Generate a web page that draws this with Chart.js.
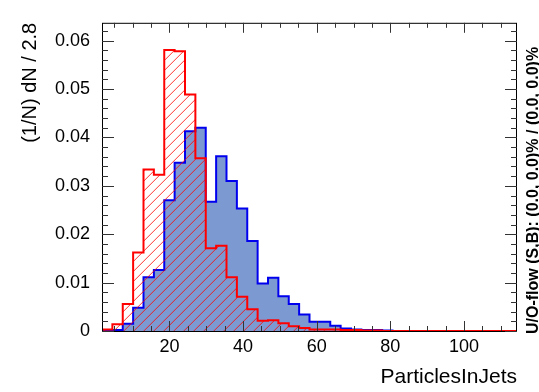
<!DOCTYPE html>
<html>
<head>
<meta charset="utf-8">
<script src="https://cdn.jsdelivr.net/npm/chart.js@4.4.0/dist/chart.umd.min.js"></script>
<style>
  body { margin: 0; background: #fff; }
  canvas { display: block; }
</style>
</head>
<body>
<canvas id="c" width="539" height="392"></canvas>
<script>
// histogram range (bin width ~2.8)
const xMin = 1.7;
const xMax = 114.4;
const nBins = 40;

// normalised entries per bin
const signal = [
  0.0000, 0.0002, 0.0015, 0.0048, 0.0111, 0.0126, 0.0270, 0.0348, 0.0413, 0.0420,
  0.0267, 0.0361, 0.0310, 0.0253, 0.0186, 0.0098, 0.0110, 0.0072, 0.0056, 0.0034,
  0.0019, 0.0019, 0.0011, 0.0005, 0.0003, 0.0002, 0.0002, 0.0001, 0.0000, 0.0000,
  0.0000, 0.0000, 0.0000, 0.0000, 0.0000, 0.0000, 0.0000, 0.0000, 0.0000, 0.0000
];
const background = [
  0.0003, 0.0014, 0.0056, 0.0162, 0.0334, 0.0323, 0.0581, 0.0578, 0.0489, 0.0357,
  0.0171, 0.0176, 0.0111, 0.0071, 0.0045, 0.0021, 0.0022, 0.0016, 0.0010, 0.0006,
  0.0003, 0.0003, 0.0003, 0.0002, 0.0002, 0.0001, 0.0001, 0.0000, 0.0000, 0.0000,
  0.0000, 0.0000, 0.0000, 0.0000, 0.0000, 0.0000, 0.0000, 0.0000, 0.0000, 0.0000
];

const xTicks = [20, 40, 60, 80, 100];
const yTicks = [0, 0.01, 0.02, 0.03, 0.04, 0.05, 0.06];
const yMax = 0.0637;
const xTitle = 'ParticlesInJets';
const yTitle = '(1/N) dN / 2.8';
const flowText = 'U/O-flow (S,B): (0.0, 0.0)% / (0.0, 0.0)%';

const FONT = "'Liberation Sans', Arial, sans-serif";

// turn bin contents into step points (left edge of each bin)
function histPoints(vals) {
  const w = (xMax - xMin) / nBins;
  const pts = [{ x: xMin, y: 0 }];
  vals.forEach((v, i) => pts.push({ x: xMin + i * w, y: v }));
  pts.push({ x: xMax, y: vals[vals.length - 1] });
  pts.push({ x: xMax, y: 0 });
  return pts;
}

// red diagonal hatch (ROOT 3554 look), clipped to the background histogram
const hatchPlugin = {
  id: 'hatch',
  beforeDatasetDraw(chart, args) {
    if (args.index !== 0) return;
    const { ctx, chartArea: a } = chart;
    ctx.save();
    ctx.beginPath();
    args.meta.dataset.path(ctx);
    ctx.closePath();
    ctx.clip();
    ctx.strokeStyle = 'rgba(255,0,0,0.8)';
    ctx.lineWidth = 1;
    ctx.beginPath();
    const h = a.bottom - a.top;
    for (let x0 = a.left - h; x0 < a.right; x0 += 10) {
      ctx.moveTo(x0, a.bottom);
      ctx.lineTo(x0 + h, a.top);
    }
    ctx.stroke();
    ctx.restore();
  }
};

// frame with inward ticks on all four sides
const framePlugin = {
  id: 'frame',
  afterDraw(chart) {
    const { ctx, chartArea: a, scales: { x, y } } = chart;
    ctx.save();
    ctx.strokeStyle = '#000';
    ctx.lineWidth = 1;
    ctx.strokeRect(a.left + 0.5, a.top + 0.5, a.right - a.left - 1, a.bottom - a.top);
    ctx.strokeStyle = '#333';
    ctx.beginPath();
    for (let v = 5; v < xMax; v += 5) {
      const px = Math.round(x.getPixelForValue(v)) + 0.5;
      const len = v % 20 === 0 ? 10 : 5;
      ctx.moveTo(px, a.bottom); ctx.lineTo(px, a.bottom - len);
      ctx.moveTo(px, a.top); ctx.lineTo(px, a.top + len);
    }
    for (let k = 0; k * 0.002 < yMax; k++) {
      const py = Math.round(y.getPixelForValue(k * 0.002)) + 0.5;
      const len = k % 5 === 0 ? 12 : 6;
      ctx.moveTo(a.left, py); ctx.lineTo(a.left + len, py);
      ctx.moveTo(a.right, py); ctx.lineTo(a.right - len, py);
    }
    ctx.stroke();

    // under/overflow note on the right
    ctx.translate(534, 334);
    ctx.rotate(-Math.PI / 2);
    ctx.fillStyle = '#000';
    ctx.font = 'bold 16px ' + FONT;
    ctx.textAlign = 'left';
    ctx.textBaseline = 'middle';
    ctx.fillText(flowText, 0, 0);
    ctx.restore();
  }
};

new Chart(document.getElementById('c'), {
  type: 'line',
  data: {
    datasets: [
      {
        label: 'Background',
        data: histPoints(background),
        stepped: 'before',
        borderColor: '#ff0000',
        borderWidth: 2,
        fill: false,
        pointRadius: 0
      },
      {
        label: 'Signal',
        data: histPoints(signal),
        stepped: 'before',
        borderColor: '#0000ee',
        borderWidth: 2,
        backgroundColor: '#7d99d1',
        fill: 'origin',
        pointRadius: 0
      }
    ]
  },
  options: {
    responsive: false,
    animation: false,
    layout: { padding: { top: 5, right: 22, left: 0, bottom: 0 } },
    plugins: { legend: { display: false }, tooltip: { enabled: false } },
    scales: {
      x: {
        type: 'linear',
        min: xMin,
        max: xMax,
        afterBuildTicks: s => { s.ticks = xTicks.map(v => ({ value: v })); },
        afterFit: s => { s.height = 61; },
        grid: { display: false, drawTicks: false },
        border: { display: false },
        ticks: { color: '#000', font: { family: FONT, size: 18 }, padding: 5, maxRotation: 0 },
        title: {
          display: true, text: xTitle, align: 'end', color: '#000',
          font: { family: FONT, size: 21 }, padding: { top: 0, bottom: 2 }
        }
      },
      y: {
        type: 'linear',
        min: 0,
        max: yMax,
        afterBuildTicks: s => { s.ticks = yTicks.map(v => ({ value: v })); },
        afterFit: s => { s.width = 102; },
        grid: { display: false, drawTicks: false },
        border: { display: false },
        ticks: {
          color: '#000', font: { family: FONT, size: 18 }, padding: 12,
          callback: v => (v === 0 ? '0' : v.toFixed(2))
        },
        title: {
          display: true, text: yTitle, align: 'end', color: '#000',
          font: { family: FONT, size: 20 }, padding: { top: 18, bottom: 0 }
        }
      }
    }
  },
  plugins: [hatchPlugin, framePlugin]
});
</script>
</body>
</html>
